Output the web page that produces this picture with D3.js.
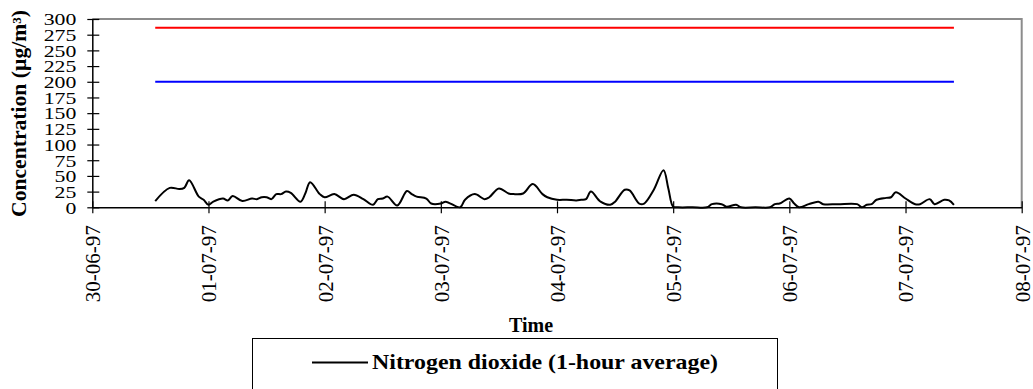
<!DOCTYPE html>
<html>
<head>
<meta charset="utf-8">
<script src="https://cdn.jsdelivr.net/npm/d3@7"></script>
<style>
  html, body { margin: 0; padding: 0; background: #fff; }
  svg { display: block; }
  svg text { font-family: "Liberation Serif", "Times New Roman", Times, serif !important; fill: #000; }
</style>
</head>
<body>
<svg id="chart" width="1033" height="389"></svg>
<script>
// Hours since 30-06-97 00:00 for each reading of the hourly NO2 record
const obsHour = [13, 16, 18, 19, 20, 22, 23, 24, 25, 27, 28, 29, 31, 33, 34, 35, 36, 37, 38, 39,
  40, 41, 43, 44, 45, 47, 48, 50, 52, 54, 56, 58, 59, 60, 61, 63, 65, 66, 67, 69,
  70, 72, 73, 76, 77, 79, 81, 82, 84, 86, 87, 89, 91, 93, 94, 96, 98, 100, 101, 102,
  103, 105, 107, 108, 110, 111, 113, 114, 116, 118, 119, 120, 121, 124, 127, 128, 130, 131, 133, 134,
  137, 140, 141, 142, 144, 145, 146, 148, 150, 151, 154, 158, 159, 160, 161, 162, 164, 165, 166, 168,
  170, 171, 173, 174, 176, 177, 178];
// Nitrogen dioxide, 1-hour average (µg/m³)
const no2 = [10, 31, 29, 31, 43, 17, 12, 4, 9, 14, 11, 18, 10, 14, 13, 16, 16, 13, 21, 21,
  25, 23, 9, 22, 40, 21, 16, 21, 13, 20, 13, 4, 13, 14, 17, 3, 26, 21, 17, 14,
  6, 6, 9, 0, 12, 21, 13, 16, 30, 22, 21, 22, 37, 21, 16, 12, 12, 11, 12, 13,
  25, 9, 4, 9, 28, 27, 6, 6, 28, 59, 30, 1, 0, 0, 0, 5, 5, 1, 4, 0,
  0, 0, 5, 6, 14, 6, 0, 5, 9, 5, 5, 5, 0, 4, 5, 12, 15, 16, 24, 14,
  5, 5, 13, 5, 12, 11, 4];

// Reference limit values drawn across the measurement period
const limitValues = [286, 200];
const limitColors = ["#ff0000", "#0000ff"];

// Axis ticks and labels
const yTicks = d3.range(0, 301, 25);
const seriesLabel = "Nitrogen dioxide (1-hour average)";
const xTitle = "Time";
const yTitle = "Concentration (µg/m³)";

const SERIF = "'Liberation Serif', 'Times New Roman', Times, serif";

const t0 = new Date(1997, 5, 30);
const toDate = h => new Date(t0.getTime() + h * 3600e3);
const points = obsHour.map((h, i) => ({ t: toDate(h), v: no2[i] }));

const svg = d3.select("#chart");
const plot = { left: 92.3, right: 1021.7, top: 19, bottom: 207.3 };

const x = d3.scaleTime()
  .domain([t0, new Date(1997, 6, 8)])
  .range([plot.left, plot.right]);
const y = d3.scaleLinear()
  .domain([0, 300])
  .range([plot.bottom, plot.top]);

// Plot frame: grey top and right edges
svg.append("path")
  .attr("d", `M${plot.left},${plot.top}H${plot.right}V${plot.bottom}`)
  .attr("fill", "none")
  .attr("stroke", "#8c8c8c")
  .attr("stroke-width", 2);

// Limit lines over the time span of the record
const tStart = points[0].t, tEnd = points[points.length - 1].t;
svg.selectAll("line.limit")
  .data(limitValues)
  .join("line")
  .attr("class", "limit")
  .attr("x1", x(tStart)).attr("x2", x(tEnd))
  .attr("y1", d => y(d)).attr("y2", d => y(d))
  .attr("stroke", (d, i) => limitColors[i])
  .attr("stroke-width", 2);

// NO2 series
const line = d3.line()
  .x(d => x(d.t))
  .y(d => y(d.v))
  .curve(d3.curveCatmullRom.alpha(0.5));
svg.append("path")
  .datum(points)
  .attr("d", line)
  .attr("fill", "none")
  .attr("stroke", "#000")
  .attr("stroke-width", 2)
  .attr("stroke-linejoin", "round");

// Y axis
const yAxis = svg.append("g")
  .attr("transform", `translate(${plot.left},0)`)
  .call(d3.axisLeft(y).tickValues(yTicks).tickSize(0).tickPadding(0));
yAxis.attr("font-family", null);
yAxis.select(".domain").attr("stroke", "#000").attr("stroke-width", 1.5);
yAxis.selectAll(".tick").append("line")
  .attr("x1", -5).attr("x2", 7)
  .attr("stroke", "#000").attr("stroke-width", 1.2);
yAxis.selectAll(".tick text")
  .style("font-family", SERIF)
  .style("font-size", "17px")
  .attr("x", -16 / 1.28)
  .attr("dy", "0.34em")
  .attr("transform", "scale(1.28,1)");

// X axis
const xAxis = svg.append("g")
  .attr("transform", `translate(0,${plot.bottom})`)
  .call(d3.axisBottom(x)
    .ticks(d3.timeDay.every(1))
    .tickFormat(d3.timeFormat("%d-%m-%y"))
    .tickSize(0));
xAxis.attr("font-family", null);
xAxis.select(".domain").attr("stroke", "#000").attr("stroke-width", 1.5);
xAxis.selectAll(".tick").append("line")
  .attr("y1", -6).attr("y2", 6)
  .attr("stroke", "#000").attr("stroke-width", 1.2);
xAxis.selectAll(".tick text")
  .style("font-family", SERIF)
  .style("font-size", "21px")
  .attr("text-anchor", "end")
  .attr("transform", "rotate(-90)")
  .attr("x", -18)
  .attr("y", 0)
  .attr("dy", "0.35em");

// Axis titles
svg.append("text")
  .attr("transform", `translate(26,${(10 + 217) / 2}) rotate(-90)`)
  .attr("text-anchor", "middle")
  .style("font-family", SERIF)
  .style("font-size", "20px")
  .style("font-weight", "bold")
  .attr("textLength", 207)
  .attr("lengthAdjust", "spacingAndGlyphs")
  .text(yTitle);

svg.append("text")
  .attr("x", 531).attr("y", 332)
  .attr("text-anchor", "middle")
  .style("font-family", SERIF)
  .style("font-size", "20px")
  .style("font-weight", "bold")
  .text(xTitle);

// Legend
const legend = svg.append("g");
legend.append("rect")
  .attr("x", 252.5).attr("y", 338.5)
  .attr("width", 525).attr("height", 60)
  .attr("fill", "#fff")
  .attr("stroke", "#000")
  .attr("stroke-width", 1);
legend.append("line")
  .attr("x1", 312).attr("x2", 368)
  .attr("y1", 362.5).attr("y2", 362.5)
  .attr("stroke", "#000").attr("stroke-width", 2);
legend.append("text")
  .attr("x", 372).attr("y", 369)
  .style("font-family", SERIF)
  .style("font-size", "21px")
  .style("font-weight", "bold")
  .attr("textLength", 346)
  .attr("lengthAdjust", "spacingAndGlyphs")
  .text(seriesLabel);
</script>
</body>
</html>
